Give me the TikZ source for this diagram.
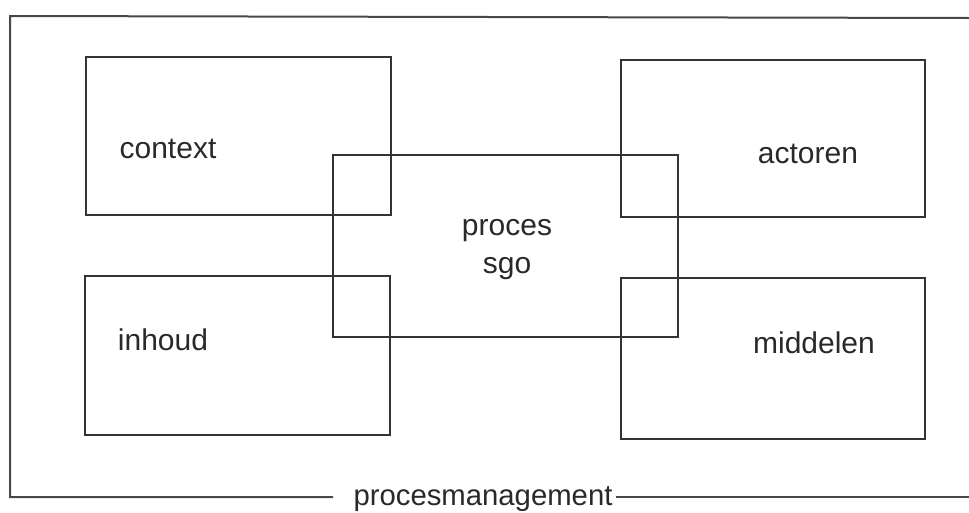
\documentclass[tikz,border=0pt]{standalone}
\usepackage{fontspec}
\setmainfont{Liberation Sans}
\definecolor{ink}{HTML}{333333}
\begin{document}
\begin{tikzpicture}[x=1pt,y=-1pt,
  box/.style={draw=ink,line width=1.6pt,inner sep=0pt},
  frameline/.style={draw=ink!90,line width=2pt},
  lbl/.style={text=ink!80!black,font=\fontsize{30}{32}\selectfont,inner sep=0pt,anchor=base}]
\useasboundingbox (0,0) rectangle (969,512);
% outer frame
\coordinate (tr) at (969,18);
\coordinate (tl) at (10,16);
\coordinate (bl) at (10,497);
\coordinate (bm1) at (333,497);
\coordinate (bm2) at (616,497);
\coordinate (br) at (969,497);
\draw[frameline] (tr) -- (tl) -- (bl) -- (bm1);
\draw[frameline] (bm2) -- (br);
\node[lbl,font=\fontsize{29.3}{32}\selectfont] (pm) at (483,505) {procesmanagement};
% boxes
\node[box,minimum width=305pt,minimum height=158pt] (ctx) at (238.5,136) {};
\node[box,minimum width=304pt,minimum height=157pt] (act) at (773,138.5) {};
\node[box,minimum width=305pt,minimum height=159pt] (inh) at (237.5,355.5) {};
\node[box,minimum width=304pt,minimum height=161pt] (mid) at (773,358.5) {};
\node[box,minimum width=345pt,minimum height=182pt] (pro) at (505.5,246) {};
% labels
\node[lbl] (tctx) at (168,158) {context};
\node[lbl] (tact) at (808,163) {actoren};
\node[lbl] (tinh) at (163,350) {inhoud};
\node[lbl] (tmid) at (814,353) {middelen};
\node[lbl] (tpro) at (507,235) {proces};
\node[lbl] (tsgo) at (507,273) {sgo};
\end{tikzpicture}
\end{document}
